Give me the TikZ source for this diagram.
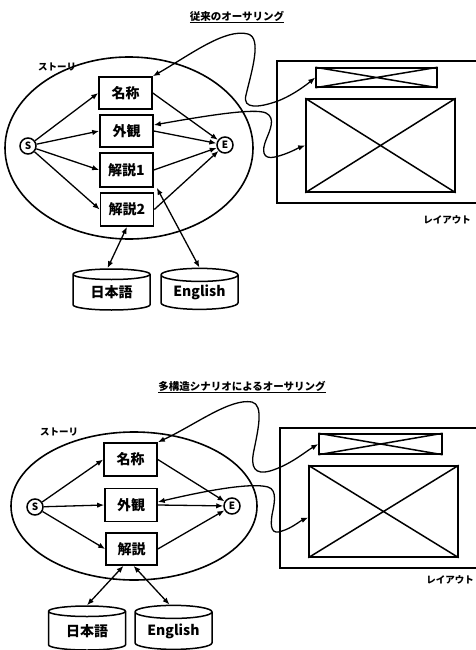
\documentclass[tikz,border=0pt]{standalone}
\usepackage{fontspec}
\newfontfamily\jp{Noto Sans CJK JP}
\usetikzlibrary{shapes.geometric,arrows.meta}
\tikzset{
  x=1pt, y=-1pt,
  box/.style={draw, line width=1.6pt, minimum width=53pt, minimum height=32pt, inner sep=0pt,
    font=\jp\bfseries\fontsize{14}{14}\selectfont},
  term/.style={draw, circle, line width=1.5pt, minimum size=16pt, inner sep=0pt,
    font=\jp\bfseries\fontsize{10}{10}\selectfont},
  story/.style={draw, ellipse, line width=1.6pt, inner sep=0pt},
  db/.style={draw, cylinder, shape border rotate=90, aspect=0.25, line width=1.5pt, inner sep=0pt,
    minimum width=77pt, minimum height=41pt, font=\jp\bfseries\fontsize{14}{14}\selectfont},
  xbox/.style={draw, line width=1.5pt, inner sep=0pt},
  frame/.style={line width=1.5pt},
  lbl/.style={font=\jp\bfseries\fontsize{9.5}{9.5}\selectfont, inner sep=0pt},
  ttl/.style={font=\jp\bfseries\fontsize{10.5}{10.5}\selectfont, inner sep=0pt},
  arr/.style={line width=1.3pt, -{Latex[length=7pt,width=5.5pt]}},
  dbl/.style={line width=1.3pt, {Latex[length=7pt,width=5.5pt]}-{Latex[length=7pt,width=5.5pt]}},
}
\begin{document}
\begin{tikzpicture}
\useasboundingbox (0,0) rectangle (476,650);
% ===== top diagram =====
\node[ttl] (title1) at (237,17) {\underline{従来のオーサリング}};
\node[story, minimum width=248pt, minimum height=182pt] (ell1) at (129,148) {};
\node[lbl] (st1) at (57,67) {ストーリ};
\node[box] (nm1) at (125.5,93) {名称};
\node[box] (gk1) at (126.5,131) {外観};
\node[box, minimum height=34pt] (k1) at (126.5,170) {解説1};
\node[box, minimum height=33pt] (k2) at (127,209.5) {解説2};
\node[term] (S1) at (28,146) {S};
\node[term] (E1) at (225,145) {E};
\node[db] (jp1) at (111.5,292.5) {日本語};
\node[db] (en1) at (199.5,292.5) {English};
\draw[frame] (478,61) -- (277,61) -- (277,203) -- (478,203);
\node[xbox, minimum width=121pt, minimum height=19pt] (sm1) at (376.5,77.5) {};
\node[xbox, minimum width=149pt, minimum height=93pt] (bg1) at (380.5,145.5) {};
\draw[frame] (sm1.north west) -- (sm1.south east) (sm1.south west) -- (sm1.north east);
\draw[frame] (bg1.north west) -- (bg1.south east) (bg1.south west) -- (bg1.north east);
\node[lbl] (lay1) at (447,220) {レイアウト};
\foreach \b in {nm1,gk1,k1,k2}{
  \draw[arr] (S1) -- (\b.west);
  \draw[arr] (\b.east) -- (E1);
}
\draw[dbl] (k2.south) -- ([xshift=-4pt]jp1.north);
\draw[dbl] ([xshift=3pt]k1.south east) -- (en1.north);
\draw[dbl] (nm1.north east) .. controls (190,55) and (225,28) .. (248,34)
  .. controls (262,38) and (252,70) .. (246,95)
  .. controls (242,110) and (260,107) .. (275,102)
  .. controls (290,97) and (305,86) .. (sm1.west);
\draw[dbl] ([yshift=6pt]gk1.east) .. controls (210,115) and (255,108) .. (266,113)
  .. controls (276,118) and (270,130) .. (266,140)
  .. controls (262,150) and (262,160) .. (275,157)
  .. controls (288,154) and (298,148) .. (bg1.west);
% ===== bottom diagram =====
\node[ttl] (title2) at (242,387) {\underline{多構造シナリオによるオーサリング}};
\node[story, minimum width=246pt, minimum height=148pt] (ell2) at (134,506) {};
\node[lbl] (st2) at (59,432) {ストーリ};
\node[box, minimum height=33pt] (nm2) at (130.5,459.5) {名称};
\node[box, minimum width=52pt, minimum height=33pt] (gk2) at (131,505) {外観};
\node[box, minimum width=51pt] (ks2) at (131.5,549) {解説};
\node[term] (S2) at (35,507) {S};
\node[term] (E2) at (232,506) {E};
\node[db, minimum height=44pt] (jp2) at (87,631) {日本語};
\node[db, minimum height=44pt] (en2) at (173.5,631) {English};
\draw[frame] (478,428) -- (280,428) -- (280,568) -- (478,568);
\node[xbox, minimum width=123pt, minimum height=20pt] (sm2) at (380.5,444) {};
\node[xbox, minimum width=149pt, minimum height=91pt] (bg2) at (383.5,511.5) {};
\draw[frame] (sm2.north west) -- (sm2.south east) (sm2.south west) -- (sm2.north east);
\draw[frame] (bg2.north west) -- (bg2.south east) (bg2.south west) -- (bg2.north east);
\node[lbl] (lay2) at (450,580) {レイアウト};
\foreach \b in {nm2,gk2,ks2}{
  \draw[arr] (S2) -- (\b.west);
  \draw[arr] (\b.east) -- (E2);
}
\draw[dbl] ([xshift=-8pt]ks2.south) -- (jp2.north);
\draw[dbl] ([xshift=2pt]ks2.south) -- ([xshift=-4pt]en2.north);
\draw[dbl] (nm2.north east) .. controls (195,425) and (230,398) .. (252,402)
  .. controls (264,405) and (258,430) .. (254,450)
  .. controls (250,468) and (255,475) .. (270,471)
  .. controls (290,465) and (305,452) .. (sm2.west);
\draw[dbl] ([yshift=3pt]gk2.east) .. controls (200,492) and (250,482) .. (268,487)
  .. controls (278,490) and (274,505) .. (272,515)
  .. controls (270,528) and (272,535) .. (282,531)
  .. controls (292,528) and (300,521) .. ([yshift=-6pt]bg2.west);
\end{tikzpicture}
\end{document}
